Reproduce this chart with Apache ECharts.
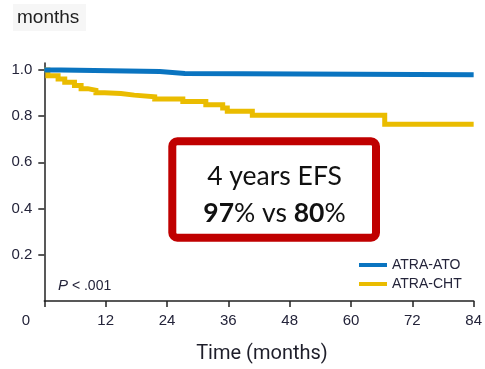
<!DOCTYPE html>
<html>
<head>
<meta charset="utf-8">
<script src="https://cdn.jsdelivr.net/npm/echarts@6/dist/echarts.min.js"></script>
<style>
  html, body { margin: 0; padding: 0; background: #fff; }
  #chart { width: 485px; height: 369px; }
</style>
</head>
<body>
<div id="chart"></div>
<script>
// Kaplan-Meier event-free survival, step at each event time (months)
const ATO_TIMES = [0, 3.3, 22.6, 27.5, 84];
const ATO_SURV  = [1.0, 0.993, 0.985, 0.979, 0.979];

const CHT_TIMES = [0, 0.7, 2.7, 4.0, 5.9, 7.2, 8.5, 10.1, 11.8, 15.0, 17.6, 21.6, 27.1, 31.6, 34.9, 35.8, 40.7, 66.6, 84];
const CHT_SURV  = [1.0, 0.975, 0.961, 0.947, 0.933, 0.919, 0.912, 0.901, 0.898, 0.891, 0.884, 0.874, 0.863, 0.849, 0.835, 0.821, 0.804, 0.765, 0.765];

const X_TICKS = [0, 12, 24, 36, 48, 60, 72, 84];
const Y_TICKS = [0.2, 0.4, 0.6, 0.8, 1.0];

const SERIES_NAMES = ['ATRA-ATO', 'ATRA-CHT'];
const BOX_LINE1 = '4 years EFS';

const BLUE = '#0a74c0';
const YELLOW = '#eabc00';
const INK = '#24243a';

const pairs = (xs, ys) => xs.map((x, i) => [x, ys[i]]);

const chart = echarts.init(document.getElementById('chart'));
const option = {
  animation: false,
  backgroundColor: '#fff',
  grid: { left: 44.3, right: 10.7, top: 63, bottom: 60.7, containLabel: false },
  xAxis: {
    type: 'value',
    min: 0, max: 84, interval: 12,
    name: 'Time (months)',
    nameLocation: 'middle',
    nameGap: 43,
    nameTextStyle: { fontFamily: 'Roboto', fontSize: 20, color: '#1e1e2a', padding: [0, 0, 0, 6] },
    axisLine: { show: true, lineStyle: { color: '#222', width: 1.5 } },
    axisTick: { show: true, length: 6, inside: false, customValues: X_TICKS, lineStyle: { color: '#222', width: 1.5 } },
    axisLabel: {
      customValues: X_TICKS,
      margin: 12,
      fontFamily: 'Liberation Sans', fontSize: 15, color: INK,
      formatter: v => v === 0 ? '{z|0}' : String(v),
      rich: { z: { fontFamily: 'Liberation Sans', fontSize: 15, color: INK, padding: [0, 37, 0, 0] } }
    },
    splitLine: { show: false }
  },
  yAxis: {
    type: 'value',
    min: 0, max: 1.03,
    axisLine: { show: true, lineStyle: { color: '#222', width: 1.5 } },
    axisTick: { show: true, length: 6, customValues: Y_TICKS, lineStyle: { color: '#222', width: 1.5 } },
    axisLabel: {
      customValues: Y_TICKS,
      margin: 12,
      fontFamily: 'Liberation Sans', fontSize: 15, color: INK,
      formatter: v => v.toFixed(1)
    },
    splitLine: { show: false }
  },
  legend: {
    orient: 'vertical',
    left: 359, top: 258,
    padding: 0,
    itemWidth: 28, itemHeight: 4, itemGap: 5,
    icon: 'rect',
    textStyle: { fontFamily: 'Liberation Sans', fontSize: 14, color: INK },
    data: SERIES_NAMES
  },
  series: [
    {
      name: SERIES_NAMES[0], type: 'line', step: 'end', symbol: 'none',
      data: pairs(ATO_TIMES, ATO_SURV),
      lineStyle: { color: BLUE, width: 5, cap: 'butt', join: 'miter' },
      itemStyle: { color: BLUE },
      z: 3
    },
    {
      name: SERIES_NAMES[1], type: 'line', step: 'end', symbol: 'none',
      data: pairs(CHT_TIMES, CHT_SURV),
      lineStyle: { color: YELLOW, width: 5, cap: 'butt', join: 'miter' },
      itemStyle: { color: YELLOW },
      z: 2
    }
  ],
  graphic: [
    {
      type: 'rect', x: 13, y: 4, z: 0,
      shape: { width: 73, height: 27 },
      style: { fill: '#f6f6f6' }
    },
    {
      type: 'text', x: 17, y: 17.5, z: 1,
      style: { text: 'months', fontFamily: 'Liberation Sans', fontSize: 19, fill: '#1e1e1e', verticalAlign: 'middle' }
    },
    {
      type: 'text', x: 58, y: 286, z: 5,
      style: {
        text: '{p|P} < .001',
        verticalAlign: 'middle',
        fontFamily: 'Liberation Sans', fontSize: 14, fill: INK,
        rich: { p: { fontStyle: 'italic', fontFamily: 'Liberation Sans', fontSize: 15, fill: INK } }
      }
    },
    {
      type: 'rect', x: 172.3, y: 141.3, z: 10,
      shape: { x: 0, y: 0, width: 203.7, height: 96.4, r: 5 },
      style: { fill: '#fff', stroke: '#c00000', lineWidth: 8 }
    },
    {
      type: 'text', z: 11,
      x: 274.5, y: 195,
      style: {
        text: BOX_LINE1 + '\n{b|97}% vs {b|80}%',
        align: 'center', verticalAlign: 'middle',
        fontFamily: 'Lato', fontSize: 26.5, fill: '#111', lineHeight: 37,
        rich: { b: { fontFamily: 'Lato', fontWeight: 'bold', fontSize: 26.5, fill: '#111', lineHeight: 37 } }
      }
    }
  ]
};
chart.setOption(option);
</script>
</body>
</html>
